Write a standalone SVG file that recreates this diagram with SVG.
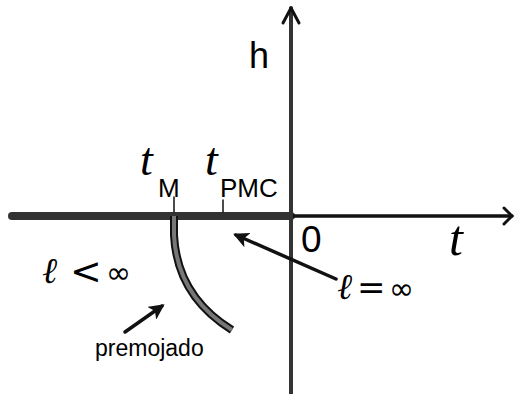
<svg xmlns="http://www.w3.org/2000/svg" width="515" height="394" viewBox="0 0 515 394">
<style>
.sans{font-family:"Liberation Sans","DejaVu Sans",sans-serif;fill:#000}
.dj{font-family:"DejaVu Sans",sans-serif;fill:#000}
.ser{font-family:"Liberation Serif","DejaVu Serif",serif;font-style:italic;fill:#000}
.ax{stroke:#111;fill:none;stroke-linecap:round;stroke-linejoin:round}
</style>
<defs>
<marker id="ah" viewBox="0 0 10 10" refX="8" refY="5" markerWidth="4.5" markerHeight="4.5" orient="auto">
<path d="M0,0 L10,5 L0,10 L2.5,5 Z" fill="#111"/>
</marker>
</defs>
<rect width="515" height="394" fill="#fff"/>
<g id="connectors">
<g id="axis-t">
<line class="ax" x1="12" y1="216" x2="291" y2="216" stroke-width="8" style="stroke:#333"/>
<line class="ax" x1="291" y1="216" x2="512" y2="216" stroke-width="3.5"/>
<polyline class="ax" points="504,208 512,216 504,224" stroke-width="3"/>
</g>
<g id="axis-h">
<line class="ax" x1="291" y1="8" x2="291" y2="394" stroke-width="4" style="stroke:#333"/>
<polyline class="ax" points="283,23 291,8 299,23" stroke-width="3"/>
</g>
<line class="ax" x1="174" y1="197" x2="174" y2="212" stroke-width="1.5"/>
<line class="ax" x1="223" y1="200" x2="223" y2="212" stroke-width="1.5"/>
<path d="M174,216 L174,235 Q177,296 232,330" fill="none" stroke="#111" stroke-width="8"/>
<path d="M174,216 L174,235 Q177,296 232,330" fill="none" stroke="#777" stroke-width="4"/>
<line class="ax" x1="336" y1="279" x2="236" y2="235" stroke-width="3.5" marker-end="url(#ah)"/>
<line class="ax" x1="125" y1="332" x2="162" y2="306" stroke-width="3.5" marker-end="url(#ah)"/>
</g>
<g id="label-h"><text class="sans" x="249" y="68" font-size="36">h</text></g>
<g id="label-tM"><text class="ser" x="140" y="175" font-size="46">t</text><text class="sans" x="158" y="197" font-size="26">M</text></g>
<g id="label-tPMC"><text class="ser" x="205" y="175" font-size="46">t</text><text class="sans" x="220" y="197" font-size="26">PMC</text></g>
<g id="label-0"><text class="sans" x="301" y="252" font-size="37">0</text></g>
<g id="label-t"><text class="ser" x="449" y="255" font-size="50">t</text></g>
<g id="label-linf"><text class="ser" x="42" y="283" font-size="36">ℓ</text><text class="dj" x="70" y="284" font-size="38">&lt;</text><text class="dj" x="106" y="283" font-size="30">∞</text></g>
<g id="label-leqinf"><text class="ser" x="337" y="299" font-size="36">ℓ</text><text class="dj" x="357" y="299" font-size="34">=</text><text class="dj" x="389" y="299" font-size="30">∞</text></g>
<g id="label-premojado"><text class="sans" x="95" y="356" font-size="23">premojado</text></g>
</svg>
